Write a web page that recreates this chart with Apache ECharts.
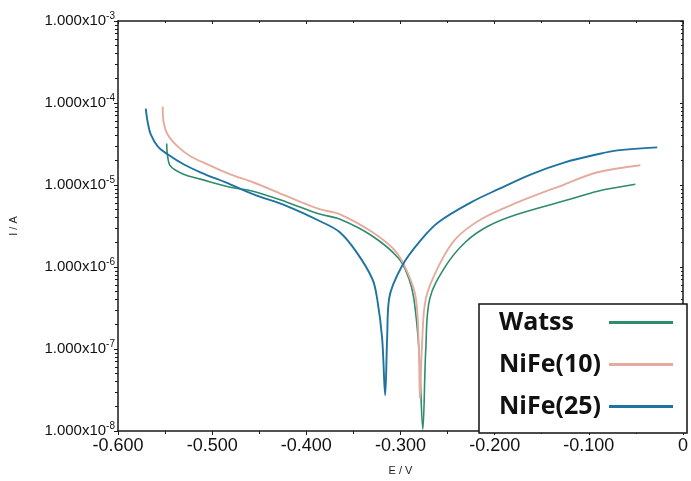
<!DOCTYPE html>
<html>
<head>
<meta charset="utf-8">
<script src="https://cdn.jsdelivr.net/npm/echarts@6/dist/echarts.min.js"></script>
<style>
  html, body { margin: 0; padding: 0; background: #fff; }
  #main { width: 691px; height: 481px; }
</style>
</head>
<body>
<div id="main"></div>
<script>
// Tafel curves, E in V, I in A
const wattsE = [-0.5483, -0.5473, -0.5441, -0.5304, -0.5125, -0.4808, -0.4566, -0.4207, -0.3859, -0.3648,
  -0.3300, -0.3016, -0.2910, -0.2858, -0.2805, -0.2763, -0.2731, -0.2689, -0.2520, -0.2309,
  -0.2067, -0.1750, -0.1192, -0.0907, -0.0506];
const wattsI = [3.21e-5, 2.24e-5, 1.69e-5, 1.35e-5, 1.18e-5, 9.40e-6, 8.41e-6, 6.18e-6, 4.42e-6, 3.85e-6,
  2.39e-6, 1.26e-6, 7.19e-7, 4.11e-7, 1.02e-7, 1.05e-8, 1.02e-7, 4.11e-7, 1.03e-6, 2.02e-6,
  3.16e-6, 4.42e-6, 6.73e-6, 8.41e-6, 1.02e-5];

const nife10E = [-0.5525, -0.5515, -0.5473, -0.5367, -0.5230, -0.5051, -0.4808, -0.4566, -0.4207, -0.3859,
  -0.3648, -0.3300, -0.3047, -0.2910, -0.2836, -0.2805, -0.2794, -0.2773, -0.2731, -0.2594,
  -0.2415, -0.2140, -0.1750, -0.1255, -0.0907, -0.0453];
const nife10I = [9.04e-5, 5.78e-5, 4.14e-5, 2.96e-5, 2.24e-5, 1.79e-5, 1.35e-5, 1.08e-5, 7.31e-6, 5.08e-6,
  4.42e-6, 2.67e-6, 1.53e-6, 7.82e-7, 4.11e-7, 1.02e-7, 2.5e-8, 1.02e-7, 4.11e-7, 1.03e-6,
  2.20e-6, 3.85e-6, 6.18e-6, 1.02e-5, 1.43e-5, 1.74e-5];

const nife25E = [-0.5705, -0.5684, -0.5652, -0.5578, -0.5473, -0.5304, -0.5125, -0.4808, -0.4566, -0.4207,
  -0.3859, -0.3648, -0.3469, -0.3300, -0.3248, -0.3195, -0.3163, -0.3142, -0.3121, -0.2984,
  -0.2773, -0.2594, -0.2246, -0.1961, -0.1613, -0.1255, -0.0907, -0.0696, -0.0274];
const nife25I = [8.55e-5, 5.78e-5, 4.14e-5, 2.96e-5, 2.37e-5, 1.79e-5, 1.43e-5, 1.02e-5, 7.73e-6, 5.53e-6,
  3.64e-6, 2.67e-6, 1.53e-6, 7.19e-7, 4.11e-7, 1.35e-7, 2.73e-8, 1.35e-7, 4.11e-7, 1.03e-6,
  2.20e-6, 3.54e-6, 6.18e-6, 8.89e-6, 1.35e-5, 1.89e-5, 2.37e-5, 2.64e-5, 2.88e-5];

const seriesNames = ['Watss', 'NiFe(10)', 'NiFe(25)'];
const seriesColors = ['#2e8b6c', '#e6ab9f', '#1f73a3'];

function zip(xs, ys) {
  return xs.map(function (x, i) { return [x, ys[i]]; });
}

const chart = echarts.init(document.getElementById('main'));

const axisColor = '#1a1a1a';

const option = {
  backgroundColor: '#fff',
  animation: false,
  grid: { left: 117, right: 4, top: 21, bottom: 48 },
  legend: {
    orient: 'vertical',
    right: 4,
    bottom: 48,
    align: 'right',
    icon: 'rect',
    itemWidth: 64,
    itemHeight: 3,
    itemGap: 17,
    backgroundColor: '#fff',
    borderColor: '#111',
    borderWidth: 1.5,
    borderRadius: 0,
    padding: [6, 14, 14, 20],
    formatter: function (name) { return '{t|' + name + '}'; },
    textStyle: {
      rich: {
        t: {
          fontFamily: 'Open Sans',
          fontWeight: 'bold',
          fontSize: 25,
          color: '#111',
          width: 105,
          align: 'left',
          lineHeight: 28
        }
      }
    },
    data: seriesNames
  },
  xAxis: [{
    type: 'value',
    min: -0.6,
    max: 0,
    interval: 0.1,
    name: 'E / V',
    nameLocation: 'middle',
    nameGap: 34,
    nameTextStyle: { fontFamily: 'Liberation Sans', fontSize: 11, color: '#222' },
    axisLine: { onZero: false, lineStyle: { color: axisColor, width: 1.5 } },
    axisTick: { length: 4, lineStyle: { color: axisColor } },
    minorTick: { show: true, splitNumber: 2, length: 3, lineStyle: { color: axisColor } },
    splitLine: { show: false },
    axisLabel: {
      fontFamily: 'Liberation Sans',
      fontSize: 18,
      color: '#111',
      margin: 6,
      showMaxLabel: true,
      formatter: function (v) { return v === 0 ? '0' : v.toFixed(3); }
    }
  }, {
    type: 'value',
    position: 'top',
    min: -0.6,
    max: 0,
    interval: 0.1,
    axisLine: { onZero: false, lineStyle: { color: axisColor, width: 1.5 } },
    axisTick: { inside: true, length: 3, lineStyle: { color: axisColor } },
    minorTick: { show: true, splitNumber: 2, length: 2, lineStyle: { color: axisColor } },
    splitLine: { show: false },
    axisLabel: { show: false }
  }],
  yAxis: [{
    type: 'log',
    logBase: 10,
    min: 1e-8,
    max: 1e-3,
    name: 'I / A',
    nameLocation: 'middle',
    nameGap: 99,
    nameTextStyle: { fontFamily: 'Liberation Sans', fontSize: 11, color: '#222' },
    axisLine: { onZero: false, lineStyle: { color: axisColor, width: 1.5 } },
    axisTick: { length: 4, lineStyle: { color: axisColor } },
    minorTick: { show: true, splitNumber: 9, length: 3, lineStyle: { color: axisColor } },
    splitLine: { show: false },
    axisLabel: {
      margin: 3,
      formatter: function (v) {
        const p = Math.round(Math.log10(v));
        return '{b|1.000x10}{s|' + p + '}';
      },
      rich: {
        b: { fontFamily: 'Liberation Sans', fontSize: 15, color: '#111' },
        s: { fontFamily: 'Liberation Sans', fontSize: 10, color: '#111', padding: [0, 0, 9, 0] }
      }
    }
  }, {
    type: 'log',
    logBase: 10,
    min: 1e-8,
    max: 1e-3,
    position: 'right',
    axisLine: { onZero: false, lineStyle: { color: axisColor, width: 1.5 } },
    axisTick: { inside: true, length: 3, lineStyle: { color: axisColor } },
    minorTick: { show: true, splitNumber: 9, length: 2, lineStyle: { color: axisColor } },
    splitLine: { show: false },
    axisLabel: { show: false }
  }],
  series: [
    { name: seriesNames[0], type: 'line', data: zip(wattsE, wattsI), showSymbol: false, smooth: 0.35,
      color: seriesColors[0], lineStyle: { width: 1.6 } },
    { name: seriesNames[1], type: 'line', data: zip(nife10E, nife10I), showSymbol: false, smooth: 0.35,
      color: seriesColors[1], lineStyle: { width: 1.9 } },
    { name: seriesNames[2], type: 'line', data: zip(nife25E, nife25I), showSymbol: false, smooth: 0.35,
      color: seriesColors[2], lineStyle: { width: 1.9 } }
  ]
};

chart.setOption(option);
</script>
</body>
</html>
